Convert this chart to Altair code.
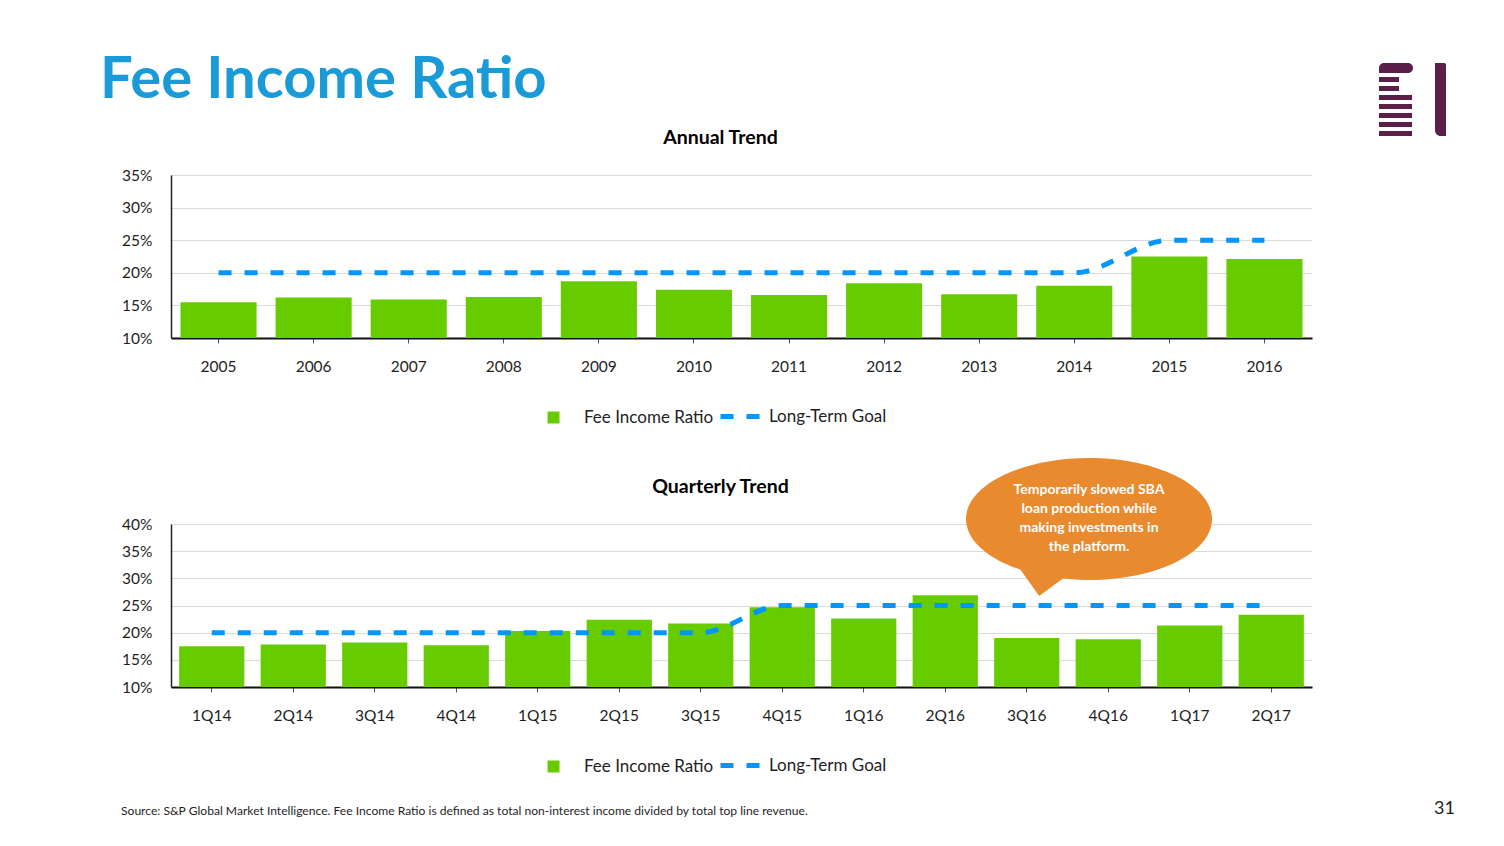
import altair as alt
import pandas as pd

# ---------------- data ----------------
years = ["2005", "2006", "2007", "2008", "2009", "2010",
         "2011", "2012", "2013", "2014", "2015", "2016"]
annual_ratio = [15.5, 16.2, 15.9, 16.3, 18.7, 17.4, 16.6, 18.4, 16.7, 18.0, 22.5, 22.1]
annual_goal = [20, 20, 20, 20, 20, 20, 20, 20, 20, 20, 25, 25]
annual_ticks = [10, 15, 20, 25, 30, 35]

quarters = ["1Q14", "2Q14", "3Q14", "4Q14", "1Q15", "2Q15", "3Q15",
            "4Q15", "1Q16", "2Q16", "3Q16", "4Q16", "1Q17", "2Q17"]
quarterly_ratio = [17.5, 17.8, 18.2, 17.7, 20.3, 22.4, 21.7, 24.7, 22.6, 26.9, 19.0, 18.8, 21.3, 23.3]
quarterly_goal = [20, 20, 20, 20, 20, 20, 20, 25, 25, 25, 25, 25, 25, 25]
quarterly_ticks = [10, 15, 20, 25, 30, 35, 40]

series_names = ["Fee Income Ratio", "Long-Term Goal"]
slide_title = "Fee Income Ratio"
panel_titles = ["Annual Trend", "Quarterly Trend"]
callout_lines = ["Temporarily slowed SBA", "loan production while",
                 "making investments in", "the platform."]
source_note = ("Source: S&P Global Market Intelligence. Fee Income Ratio is defined as "
               "total non-interest income divided by total top line revenue.")
page_number = "31"

# ---------------- style ----------------
FONT = "Lato"
GREEN = "#66cc00"
BLUE = "#0096ff"
TITLE_BLUE = "#1a9bd7"
ORANGE = "#ea8a2f"
PURPLE = "#5b1f48"
TEXT = "#1e1e1e"
W, H = 1141, 163

BUBBLE = ("M -1 0 A 1 0.496 0 1 1 1 0 A 1 0.496 0 1 1 -1 0 Z "
          "M -0.58 0.38 L -0.18 0.46 L -0.405 0.625 Z")


def one(text):
    return pd.DataFrame({"t": [text]})


def panel(cats, ratio, goal, ticks, title):
    df = pd.DataFrame({
        "period": cats, "ratio": ratio, "goal": goal,
        "idx": list(range(len(cats))),
        "bar_series": series_names[0], "line_series": series_names[1],
    })
    x = alt.X("period:N", sort=cats, title=None,
              scale=alt.Scale(paddingInner=0.2, paddingOuter=0.1),
              axis=alt.Axis(labelAngle=0, labelFontSize=15.5, labelColor=TEXT,
                            labelPadding=16, tickSize=5, tickColor="#555555",
                            tickWidth=1, domainColor="#111111", domainWidth=2,
                            grid=False, labelFont=FONT))
    y_scale = alt.Scale(domain=[ticks[0], ticks[-1]], nice=False, zero=False)
    y_axis = alt.Axis(values=ticks, labelExpr="datum.value + '%'", labelOverlap=False,
                      ticks=False, labelPadding=19, labelFontSize=15.5,
                      labelColor=TEXT, gridColor="#dadada", gridWidth=1.2,
                      domainColor="#222222", domainWidth=1.5, labelFont=FONT)
    bars = alt.Chart(df).mark_bar().encode(
        x=x, y=alt.Y("ratio:Q", title=None, scale=y_scale, axis=y_axis),
        y2=alt.datum(ticks[0]),
        fill=alt.Fill("bar_series:N", scale=alt.Scale(range=[GREEN]),
                      legend=alt.Legend(title=None, orient="none", legendX=374, legendY=234,
                                        symbolType="square", symbolSize=144,
                                        symbolStrokeWidth=0, labelFontSize=17,
                                        labelOffset=22, padding=0, labelColor=TEXT,
                                        labelFont=FONT)),
    )
    line = alt.Chart(df).mark_line(strokeDash=[13, 13], strokeWidth=5,
                                   interpolate="monotone", strokeCap="butt").encode(
        x=x, y=alt.Y("goal:Q", title=None, scale=y_scale, axis=y_axis), order="idx:Q",
        stroke=alt.Stroke("line_series:N", scale=alt.Scale(range=[BLUE]),
                          legend=alt.Legend(title=None, orient="none", legendX=547, legendY=219,
                                            symbolType="stroke", symbolSize=1600,
                                            symbolStrokeWidth=5, symbolDash=[13, 13],
                                            labelFontSize=17, labelOffset=6, padding=0,
                                            labelColor=TEXT, labelFont=FONT)),
    )
    ttl = alt.Chart(one(title)).mark_text(
        fontSize=19.5, fontWeight="bold", align="center", baseline="alphabetic",
        color="#000000", font=FONT).encode(
        x=alt.value(549.5), y=alt.value(-31), text="t:N")
    return [bars, line, ttl]


# slide title and logo (top panel)
title_mark = alt.Chart(one(slide_title)).mark_text(
    fontSize=58, fontWeight="bold", align="left", baseline="alphabetic",
    color=TITLE_BLUE, font=FONT).encode(
    x=alt.value(-71), y=alt.value(-77), text="t:N")

logo_layers = []
logo_rects = [
    # x1, x2, y1, y2 relative to plot origin, corner radii
    (1208, 1242, -112, -102, dict(cornerRadiusTopLeft=6, cornerRadiusTopRight=5, cornerRadiusBottomRight=6)),
    (1208, 1228, -98, -93, {}),
    (1208, 1228, -89, -84, {}),
    (1208, 1241, -80, -75, {}),
    (1208, 1241, -71, -66, {}),
    (1208, 1241, -62, -57, {}),
    (1208, 1241, -53, -48, {}),
    (1208, 1241, -44, -39, {}),
    (1264, 1275, -112, -39, dict(cornerRadiusBottomLeft=6, cornerRadiusTopRight=2)),
]
for x1, x2, y1, y2, rad in logo_rects:
    logo_layers.append(
        alt.Chart(one("logo")).mark_rect(color=PURPLE, **rad).encode(
            x=alt.value(x1), x2=alt.value(x2), y=alt.value(y1), y2=alt.value(y2)))

# callout, source, page number (bottom panel)
bubble = alt.Chart(one("bubble")).mark_point(
    shape=BUBBLE, filled=True, fill=ORANGE, opacity=1, strokeWidth=0,
    size=246 * 246).encode(x=alt.value(918), y=alt.value(-5))
bubble_text = alt.Chart(one("txt")).mark_text(
    fontSize=14, fontWeight="bold", color="white", align="center",
    baseline="middle", lineHeight=19, font=FONT).encode(
    x=alt.value(918), y=alt.value(-34), text=alt.value(callout_lines))
source = alt.Chart(one(source_note)).mark_text(
    fontSize=12.1, align="left", baseline="alphabetic", color=TEXT, font=FONT).encode(
    x=alt.value(-50), y=alt.value(291), text="t:N")
pagenum = alt.Chart(one(page_number)).mark_text(
    fontSize=18, align="left", baseline="alphabetic", color=TEXT, font=FONT).encode(
    x=alt.value(1263), y=alt.value(290), text="t:N")

top = alt.layer(*panel(years, annual_ratio, annual_goal, annual_ticks, panel_titles[0]),
                title_mark, *logo_layers).properties(width=W, height=H)
bottom = alt.layer(bubble, *panel(quarters, quarterly_ratio, quarterly_goal, quarterly_ticks,
                                  panel_titles[1]),
                   bubble_text, source, pagenum).properties(width=W, height=H)

chart = alt.vconcat(top, bottom, spacing=186, bounds="flush").resolve_scale(
    x="independent", y="independent", fill="independent", stroke="independent"
).resolve_legend(fill="independent", stroke="independent").properties(
    padding={"left": 92, "top": 44, "right": 5, "bottom": 5}
).configure(font=FONT).configure_view(stroke=None)

chart.save("out.html", embed_options={"renderer": "svg", "actions": False})
